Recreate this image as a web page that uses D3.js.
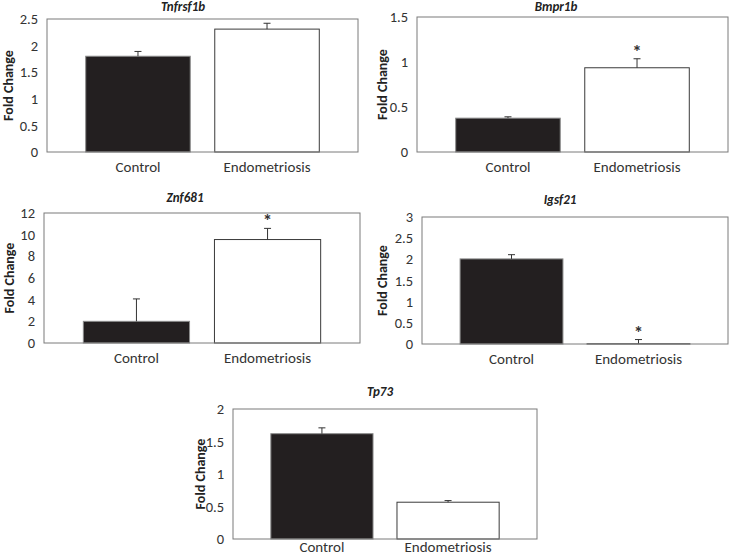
<!DOCTYPE html>
<html>
<head>
<meta charset="utf-8">
<script src="https://cdn.jsdelivr.net/npm/d3@7"></script>
<style>
  body { margin: 0; background: #fff; }
  svg { display: block; }
  text { font-family: Carlito, Lato, "Open Sans", sans-serif; }
</style>
</head>
<body>
<svg id="chart" width="731" height="555"></svg>
<script>
// ---- data ----
const genes = ["Tnfrsf1b", "Bmpr1b", "Znf681", "Igsf21", "Tp73"];
const categories = ["Control", "Endometriosis"];
const controlValues = [1.80, 0.376, 2.0, 2.01, 1.62];
const controlErrors = [0.09, 0.015, 2.07, 0.10, 0.09];
const endoValues = [2.31, 0.936, 9.55, 0.005, 0.566];
const endoErrors = [0.11, 0.10, 1.03, 0.10, 0.025];
const endoSignificant = [false, true, true, true, false];
const yMax = [2.5, 1.5, 12, 3, 2];
const yTickValues = [
  [0, 0.5, 1, 1.5, 2, 2.5],
  [0, 0.5, 1, 1.5],
  [0, 2, 4, 6, 8, 10, 12],
  [0, 0.5, 1, 1.5, 2, 2.5, 3],
  [0, 0.5, 1, 1.5, 2]
];
const yAxisTitle = "Fold Change";
const barFill = ["#231f20", "#ffffff"];

// ---- layout (panel boxes) ----
const panels = [
  { x0: 47,  x1: 358, y0: 19,  y1: 152, tx: 183, ty: 11,  lx: 8,   xpad: 9 },
  { x0: 417, x1: 728, y0: 17,  y1: 152, tx: 556, ty: 11,  lx: 382, xpad: 9 },
  { x0: 44,  x1: 360, y0: 213, y1: 343, tx: 185, ty: 202, lx: 9,   xpad: 9 },
  { x0: 422, x1: 728, y0: 217, y1: 344, tx: 560, ty: 204, lx: 382, xpad: 9 },
  { x0: 233, x1: 537, y0: 409, y1: 539, tx: 380, ty: 396, lx: 200, xpad: 2 }
];

const svg = d3.select("#chart");
const fmt = d3.format("~g");
const FONT = "Carlito, Lato, 'Open Sans', sans-serif";

genes.forEach((gene, i) => {
  const p = panels[i];
  const g = svg.append("g");
  const x = d3.scaleBand().domain(categories).range([p.x0, p.x1])
    .paddingInner(0.19).paddingOuter(0.3);
  const y = d3.scaleLinear().domain([0, yMax[i]]).range([p.y1, p.y0]);

  const rows = [
    { cat: categories[0], v: controlValues[i], e: controlErrors[i], fill: barFill[0], sig: false },
    { cat: categories[1], v: endoValues[i], e: endoErrors[i], fill: barFill[1], sig: endoSignificant[i] }
  ];

  // bars
  g.selectAll("rect.bar").data(rows).enter().append("rect")
    .attr("class", "bar")
    .attr("x", d => x(d.cat))
    .attr("width", x.bandwidth())
    .attr("y", d => y(d.v))
    .attr("height", d => y(0) - y(d.v))
    .attr("fill", d => d.fill)
    .attr("stroke", d => d.fill === "#ffffff" ? "#3a3a3a" : "#8a8a8a")
    .attr("stroke-width", 1);

  // error bars (upper only)
  rows.forEach(d => {
    const cx = x(d.cat) + x.bandwidth() / 2;
    g.append("line")
      .attr("x1", cx).attr("x2", cx)
      .attr("y1", y(d.v)).attr("y2", y(d.v + d.e))
      .attr("stroke", "#333").attr("stroke-width", 1);
    g.append("line")
      .attr("x1", cx - 3.5).attr("x2", cx + 3.5)
      .attr("y1", y(d.v + d.e)).attr("y2", y(d.v + d.e))
      .attr("stroke", "#333").attr("stroke-width", 1);
    if (d.sig) {
      g.append("text")
        .attr("x", cx).attr("y", y(d.v + d.e) - 1)
        .attr("text-anchor", "middle")
        .attr("font-size", 19).attr("font-weight", "bold")
        .attr("fill", "#333")
        .text("*");
    }
  });

  // frame
  g.append("rect")
    .attr("x", p.x0).attr("y", p.y0)
    .attr("width", p.x1 - p.x0).attr("height", p.y1 - p.y0)
    .attr("fill", "none").attr("stroke", "#7a7a7a").attr("stroke-width", 1);

  // y axis
  const yAxis = d3.axisLeft(y).tickValues(yTickValues[i]).tickFormat(fmt)
    .tickSize(0).tickPadding(9);
  const ya = g.append("g").attr("transform", `translate(${p.x0},0)`).call(yAxis);
  ya.select(".domain").remove();
  ya.selectAll("text").attr("font-size", 14.5).attr("fill", "#333")
    .style("font-family", FONT);

  // x axis labels
  const xAxis = d3.axisBottom(x).tickSize(0).tickPadding(p.xpad);
  const xa = g.append("g").attr("transform", `translate(0,${p.y1})`).call(xAxis);
  xa.select(".domain").remove();
  xa.selectAll("text").attr("font-size", 15).attr("fill", "#333")
    .style("font-family", FONT);

  // title
  g.append("text")
    .attr("x", p.tx).attr("y", p.ty)
    .attr("text-anchor", "middle")
    .attr("font-size", 13).attr("font-weight", "bold").attr("font-style", "italic")
    .attr("fill", "#222")
    .text(gene);

  // y-axis title
  g.append("text")
    .attr("transform", `translate(${p.lx + 5},${(p.y0 + p.y1) / 2}) rotate(-90)`)
    .attr("text-anchor", "middle")
    .attr("font-size", 14).attr("font-weight", "bold")
    .attr("fill", "#222")
    .text(yAxisTitle);
});
</script>
</body>
</html>
